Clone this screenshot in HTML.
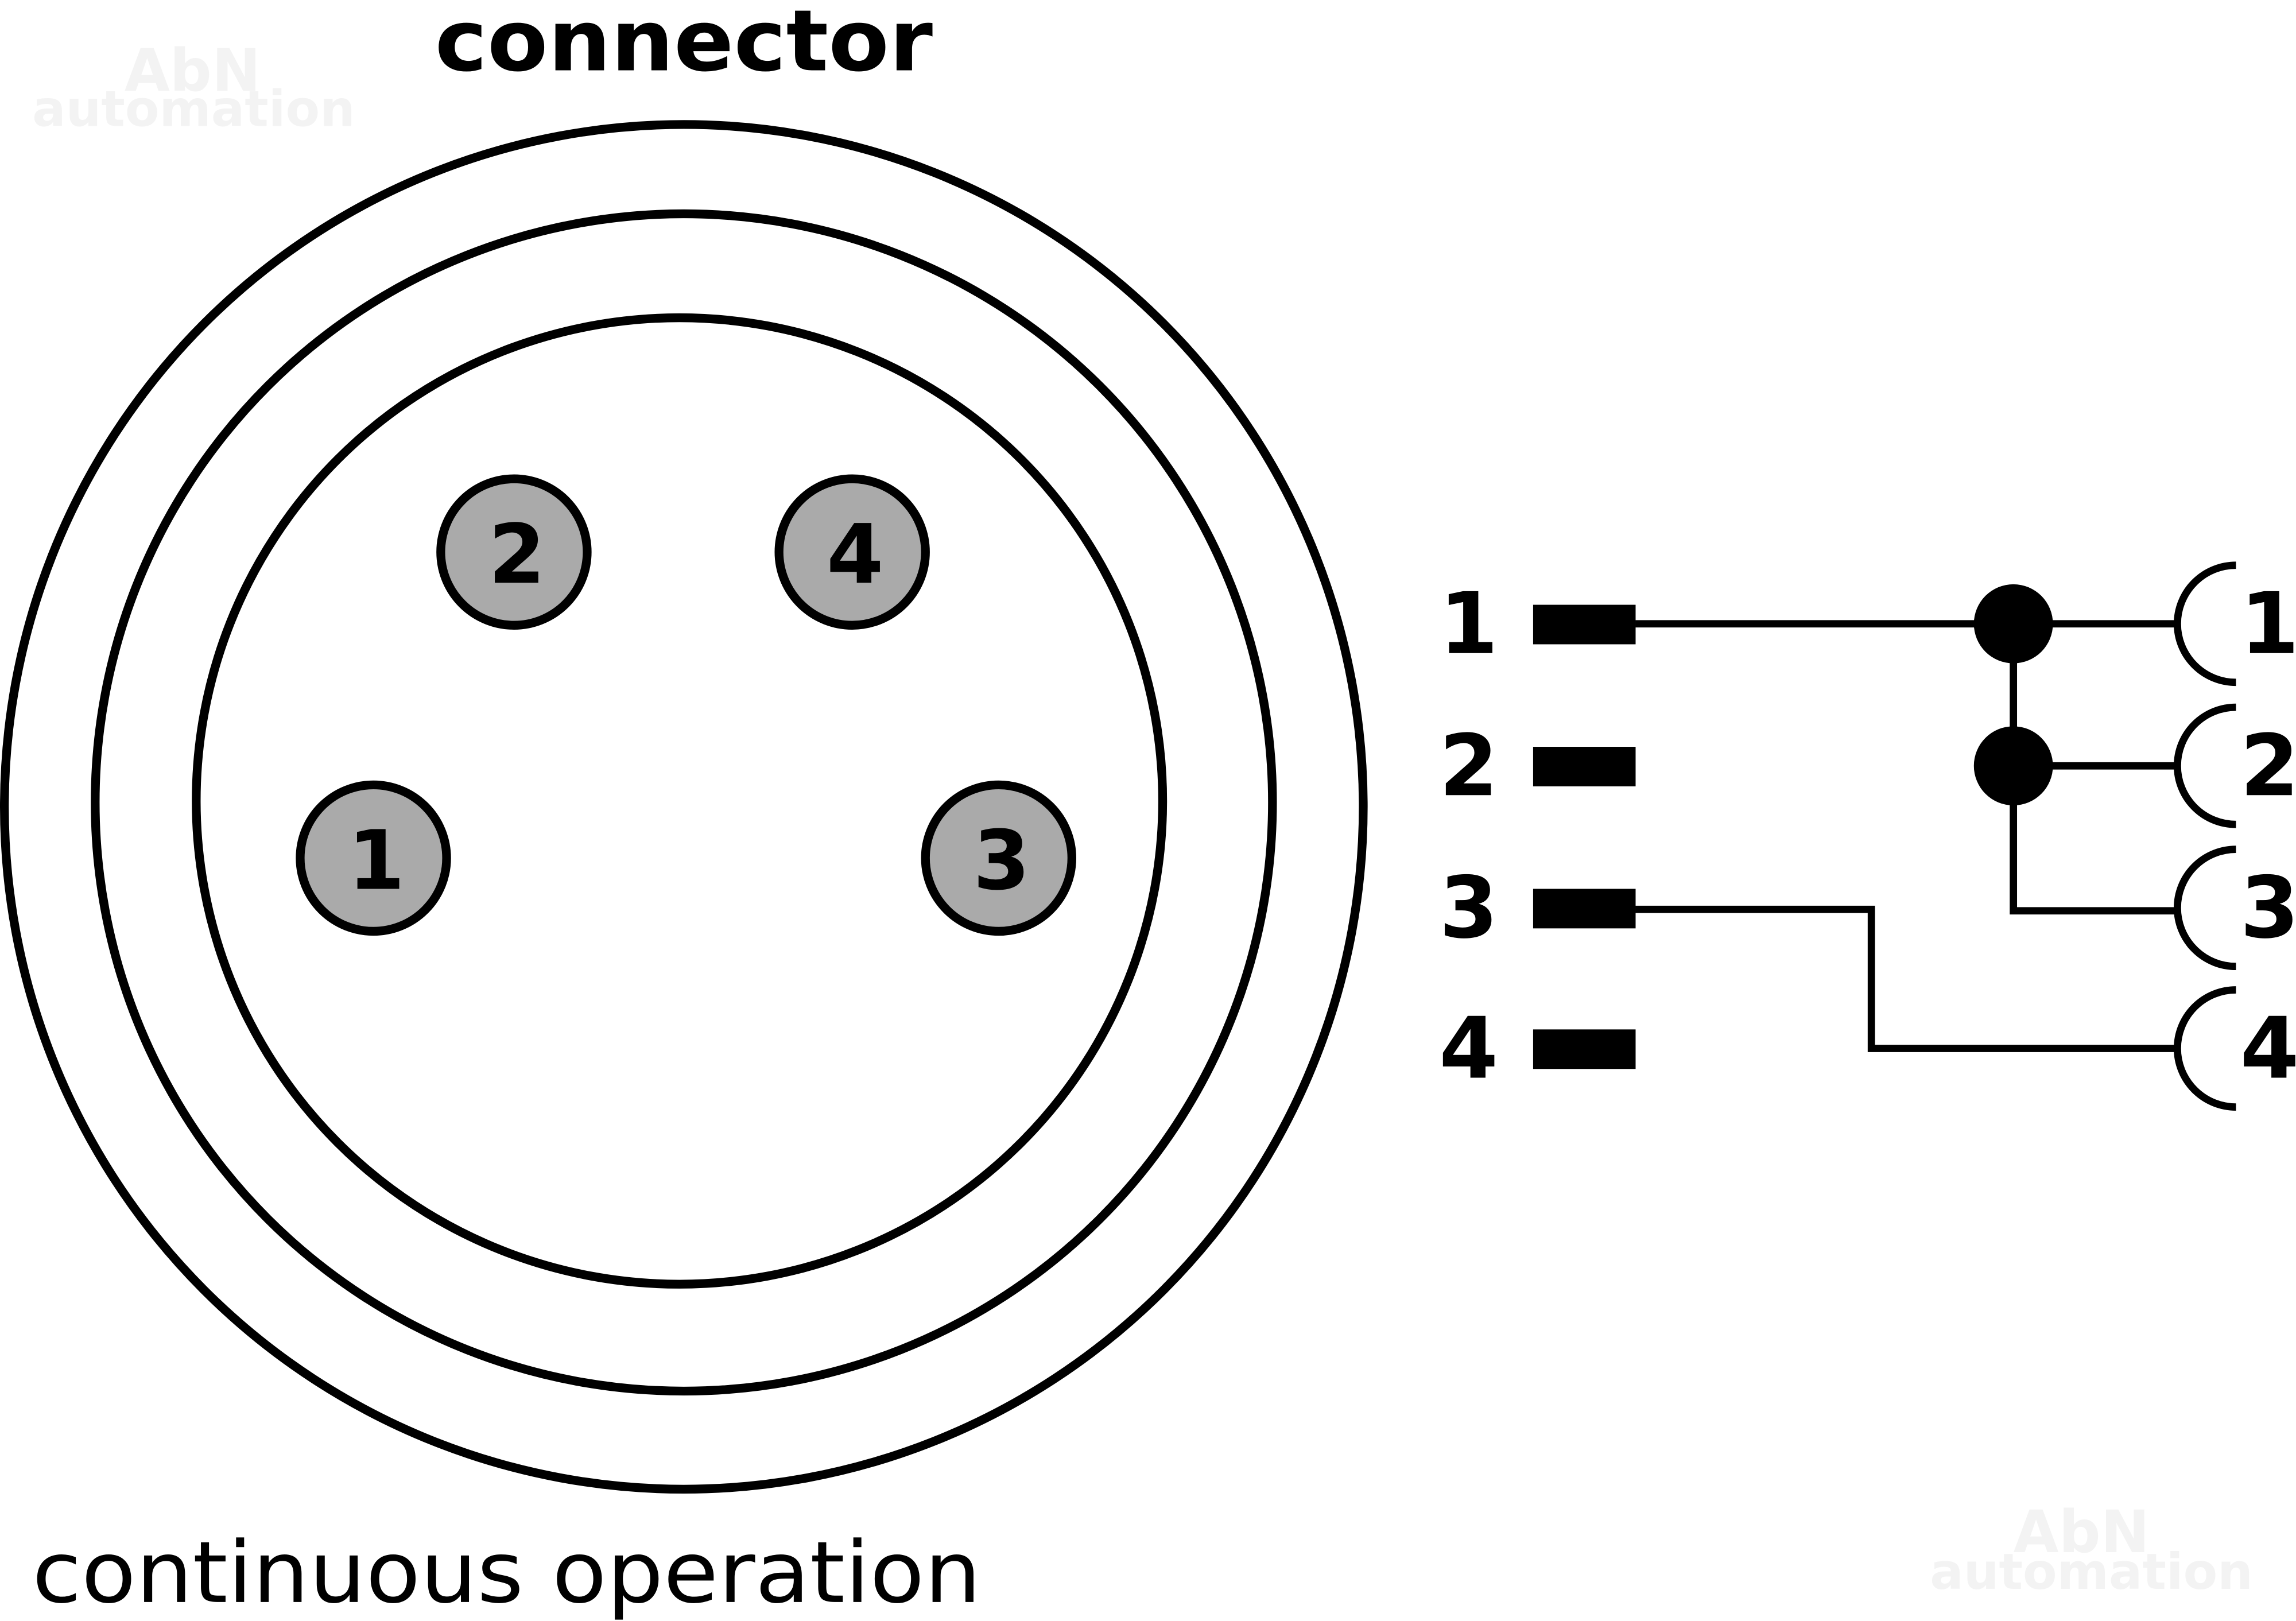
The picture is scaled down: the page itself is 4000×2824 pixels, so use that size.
<!DOCTYPE html>
<html><head><meta charset="utf-8"><style>
html,body{margin:0;padding:0;background:#fff;width:4000px;height:2824px;overflow:hidden}
svg{display:block}
</style></head><body>
<svg width="4000" height="2824" viewBox="0 0 1568 1107" xmlns="http://www.w3.org/2000/svg">
<rect width="1568" height="1107" fill="#fff"/>
<g font-family="DejaVu Sans, Liberation Sans, sans-serif" font-weight="bold" fill="#f3f3f3">
<text x="85" y="62" font-size="40">AbN</text>
<text x="22" y="86" font-size="34">automation</text>
<text x="1375" y="1060" font-size="40">AbN</text>
<text x="1318" y="1085" font-size="34">automation</text>
</g>
<text x="467" y="48" font-family="DejaVu Sans, Liberation Sans, sans-serif" font-weight="bold" font-size="58" text-anchor="middle" textLength="340" lengthAdjust="spacingAndGlyphs" fill="#000">connector</text>
<g fill="none" stroke="#000" stroke-width="6">
<ellipse cx="467" cy="551" rx="464" ry="466"/>
<circle cx="467" cy="548" r="402"/>
<circle cx="464" cy="547" r="330"/>
</g>
<g fill="#aaa" stroke="#000" stroke-width="6">
<circle cx="351" cy="377" r="50"/>
<circle cx="582" cy="377" r="50"/>
<circle cx="255" cy="586" r="50"/>
<circle cx="682" cy="586" r="50"/>
</g>
<g font-family="DejaVu Sans, Liberation Sans, sans-serif" font-weight="bold" font-size="56" text-anchor="middle" fill="#000">
<text x="353" y="398">2</text>
<text x="584" y="398">4</text>
<text x="257" y="607">1</text>
<text x="684" y="607">3</text>
</g>
<g font-family="DejaVu Sans, Liberation Sans, sans-serif" font-weight="bold" font-size="58" text-anchor="middle" fill="#000">
<text x="1003" y="446">1</text>
<text x="1003" y="543">2</text>
<text x="1003" y="640">3</text>
<text x="1003" y="736">4</text>
<text x="1550" y="446">1</text>
<text x="1550" y="543">2</text>
<text x="1550" y="640">3</text>
<text x="1550" y="736">4</text>
</g>
<g fill="#000">
<rect x="1047" y="413" width="70" height="27"/>
<rect x="1047" y="510" width="70" height="27"/>
<rect x="1047" y="607" width="70" height="27"/>
<rect x="1047" y="703" width="70" height="27"/>
<circle cx="1375" cy="426" r="27"/>
<circle cx="1375" cy="523" r="27"/>
</g>
<g fill="none" stroke="#000" stroke-width="5">
<path d="M1117 426H1487"/>
<path d="M1375 426V622H1487"/>
<path d="M1400 523H1487"/>
<path d="M1117 621H1278V716H1487"/>
<path d="M1527 386A40 40 0 0 0 1527 466"/>
<path d="M1527 483A40 40 0 0 0 1527 563"/>
<path d="M1527 580A40 40 0 0 0 1527 660"/>
<path d="M1527 676A40 40 0 0 0 1527 756"/>
</g>
<text x="22" y="1094" font-family="DejaVu Sans, Liberation Sans, sans-serif" font-size="58" textLength="648" lengthAdjust="spacingAndGlyphs" fill="#000">continuous operation</text>
</svg>
</body></html>
